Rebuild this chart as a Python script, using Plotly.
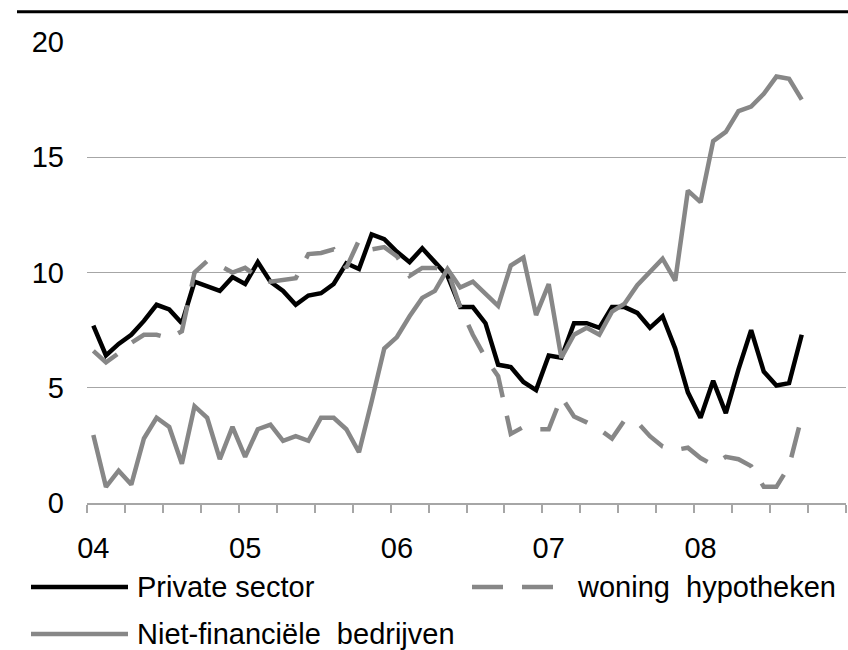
import plotly.graph_objects as go

# ---- data (monthly, Jan 2004 - Sep 2008) ----
private_sector = [7.7, 6.4, 6.9, 7.3, 7.9, 8.6, 8.4, 7.8, 9.6, 9.4,
                  9.2, 9.8, 9.5, 10.45, 9.6, 9.2, 8.6, 9.0, 9.1, 9.5,
                  10.4, 10.15, 11.65, 11.45, 10.9, 10.45, 11.05, 10.45, 9.85, 8.5,
                  8.5, 7.8, 6.0, 5.9, 5.25, 4.9, 6.4, 6.3, 7.8, 7.8,
                  7.6, 8.5, 8.5, 8.25, 7.6, 8.1, 6.7, 4.8, 3.7, 5.3,
                  3.9, 5.8, 7.5, 5.7, 5.1, 5.2, 7.3]
woning_hypotheken = [6.6, 6.1, 6.5, 6.95, 7.3, 7.3, 7.15, 7.45, 10.0, 10.5,
                     10.3, 10.0, 10.2, 9.8, 9.6, 9.7, 9.75, 10.8, 10.85, 11.0,
                     10.2, 11.4, 11.0, 11.1, 10.7, 9.85, 10.2, 10.2, 10.1, 8.5,
                     7.3, 6.3, 5.5, 3.0, 3.3, 3.2, 3.2, 4.6, 3.75, 3.5,
                     3.2, 2.8, 3.6, 3.5, 2.9, 2.45, 2.3, 2.4, 1.95, 1.65,
                     2.0, 1.9, 1.6, 0.7, 0.7, 1.6, 3.75]
niet_financiele = [2.95, 0.7, 1.4, 0.8, 2.8, 3.7, 3.3, 1.7, 4.2, 3.7,
                   1.9, 3.3, 2.0, 3.2, 3.4, 2.7, 2.9, 2.7, 3.7, 3.7,
                   3.2, 2.2, 4.4, 6.7, 7.2, 8.1, 8.9, 9.2, 10.15, 9.35,
                   9.6, 9.05, 8.55, 10.3, 10.65, 8.15, 9.5, 6.3, 7.3, 7.6,
                   7.3, 8.3, 8.65, 9.45, 10.05, 10.6, 9.65, 13.55, 13.05, 15.7,
                   16.1, 17.0, 17.2, 17.75, 18.5, 18.4, 17.5]

series_names = ["Private sector", "woning  hypotheken", "Niet-financiële  bedrijven"]
year_labels = ["04", "05", "06", "07", "08"]
year_positions = [0, 12, 24, 36, 48]      # month index of January of each year
n_categories = 60                          # Jan 2004 .. Dec 2008
y_ticks = [0, 5, 10, 15, 20]

months = list(range(len(private_sector)))

BLACK = "#000000"
GREY = "#878787"
GRID = "#a6a6a6"
FONT = "Liberation Sans, Arial, sans-serif"
DASH = "31px,19px"
LW = 4.5

fig = go.Figure()
fig.add_trace(go.Scatter(x=months, y=private_sector, mode="lines", name=series_names[0],
                         line=dict(color=BLACK, width=LW)))
fig.add_trace(go.Scatter(x=months, y=woning_hypotheken, mode="lines", name=series_names[1],
                         line=dict(color=GREY, width=LW, dash=DASH)))
fig.add_trace(go.Scatter(x=months, y=niet_financiele, mode="lines", name=series_names[2],
                         line=dict(color=GREY, width=LW)))

W, H = 848, 650
L, R, T, B = 87, 2, 42, 147
pw, ph = W - L - R, H - T - B


def px_x(p):
    return (p - L) / pw


def px_y(p):
    return (H - B - p) / ph


shapes = [
    # top rule
    dict(type="line", xref="paper", yref="paper", x0=px_x(17), x1=px_x(848),
         y0=px_y(11.7), y1=px_y(11.7), line=dict(color=BLACK, width=3)),
]
annotations = []

# manual legend
legend_items = [
    (series_names[0], BLACK, "solid", 31, 128, 587, 135),
    (series_names[1], GREY, DASH, 472, 555, 587, 575),
    (series_names[2], GREY, "solid", 31, 128, 634, 135),
]
for name, col, dash, x0, x1, yy, tx in legend_items:
    shapes.append(dict(type="line", xref="paper", yref="paper",
                       x0=px_x(x0), x1=px_x(x1), y0=px_y(yy), y1=px_y(yy),
                       line=dict(color=col, width=LW, dash=dash)))
    annotations.append(dict(xref="paper", yref="paper", x=px_x(tx), y=px_y(yy),
                            xanchor="left", yanchor="middle", text=name, showarrow=False,
                            font=dict(family=FONT, size=29, color=BLACK)))

minor_ticks = [k - 0.5 for k in range(0, n_categories + 1, 3)]

fig.update_layout(
    width=W, height=H,
    margin=dict(l=L, r=R, t=T, b=B, pad=0),
    paper_bgcolor="white", plot_bgcolor="white",
    showlegend=False,
    font=dict(family=FONT, size=29, color=BLACK),
    shapes=shapes,
    annotations=annotations,
    xaxis=dict(
        range=[-0.5, n_categories - 0.5],
        tickmode="array", tickvals=year_positions, ticktext=year_labels,
        ticks="outside", ticklen=8, tickcolor="rgba(0,0,0,0)",
        ticklabelstandoff=10,
        showline=True, linecolor=GRID, linewidth=1.5,
        showgrid=False, zeroline=False,
        minor=dict(tickmode="array", tickvals=minor_ticks, ticks="outside",
                   ticklen=8, tickcolor=GRID, tickwidth=1.5, showgrid=False),
        tickfont=dict(family=FONT, size=29, color=BLACK),
    ),
    yaxis=dict(
        range=[0, 20],
        tickmode="array", tickvals=y_ticks,
        ticks="", showline=False, zeroline=False,
        showgrid=True, gridcolor=GRID, gridwidth=1.3,
        ticklabelstandoff=22,
        tickfont=dict(family=FONT, size=29, color=BLACK),
    ),
)

fig.write_html(
    "out.html",
    config={"displayModeBar": False},
    post_script="document.body.style.margin='0';document.body.style.overflow='hidden';",
)
